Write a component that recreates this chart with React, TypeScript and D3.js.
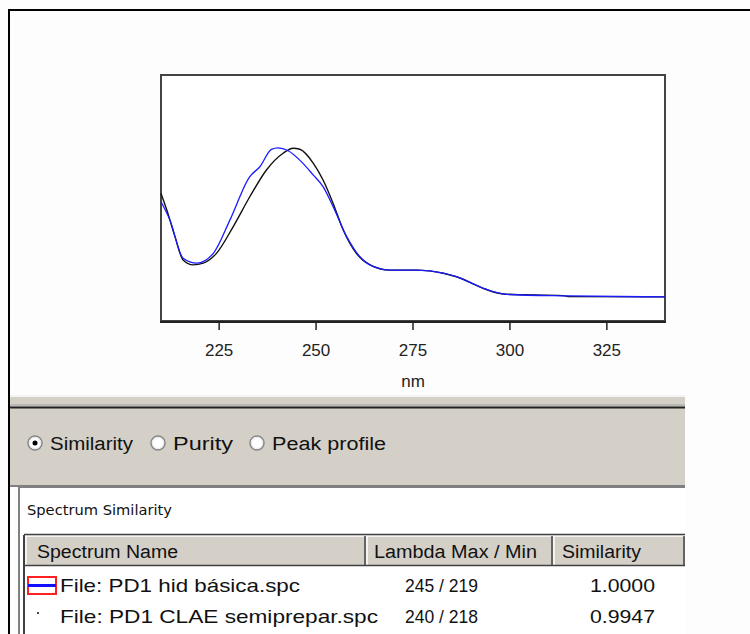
import * as d3 from "d3"

// wavelength grid (nm) and relative absorbance
const blackNm = [210, 211.5, 213.6, 215.7, 218.3, 220.9, 224.3, 228.6, 232.9, 237.2, 241.5, 244.1, 245.8, 249.3, 251.8, 254.4, 257.0, 260.4, 263.9, 269.0, 275.9, 282.8, 286.2, 293.1, 296.5, 299.1, 313.7, 315.4, 340]
const blackAbs = [0.519, 0.451, 0.343, 0.248, 0.228, 0.235, 0.275, 0.383, 0.505, 0.614, 0.682, 0.702, 0.698, 0.641, 0.573, 0.478, 0.37, 0.275, 0.228, 0.207, 0.207, 0.194, 0.18, 0.133, 0.115, 0.109, 0.103, 0.099, 0.098]

const blueNm = [210, 212.3, 215.7, 219.2, 223.5, 227.8, 232.9, 235.5, 238.5, 240.2, 242.8, 245.8, 249.3, 251.8, 254.4, 257.9, 261.3, 264.8, 269, 276, 282.8, 286.2, 293, 296.5, 299, 315, 340]
const blueAbs = [0.485, 0.411, 0.255, 0.235, 0.275, 0.411, 0.587, 0.627, 0.698, 0.704, 0.692, 0.654, 0.593, 0.546, 0.465, 0.343, 0.261, 0.221, 0.207, 0.207, 0.195, 0.18, 0.134, 0.116, 0.108, 0.102, 0.098]

const xTicks = [225, 250, 275, 300, 325]

const radioLabels = ["Similarity", "Purity", "Peak profile"]
const tableHeaders = ["Spectrum Name", "Lambda Max / Min", "Similarity"]
const spectrumNames = ["File: PD1 hid básica.spc", "File: PD1 CLAE semiprepar.spc"]
const lambdaMaxMin = ["245 / 219", "240 / 218"]
const similarity = ["1.0000", "0.9947"]

const W = 750
const H = 634
const font = "Liberation Sans, Arial, sans-serif"
const gray = "#d4d0c8"

const App = () => {
  const x = d3.scaleLinear().domain([210, 340]).range([161, 665])
  const y = d3.scaleLinear().domain([0, 1]).range([321, 75])

  const line = d3
    .line<[number, number]>()
    .x((d) => x(d[0]))
    .y((d) => y(d[1]))
    .curve(d3.curveMonotoneX)

  const blackPts = blackNm.map((n, i) => [n, blackAbs[i]] as [number, number])
  const bluePts = blueNm.map((n, i) => [n, blueAbs[i]] as [number, number])

  const radioX = [35, 158, 257]
  const colX = [25, 366, 553, 685]
  const rowY = [585, 616]

  return (
    <svg
      width={W}
      height={H}
      style={{ position: "absolute", left: 0, top: 0, background: "#fdfdfd" }}
    >
      {/* outer window border */}
      <line x1={8} y1={10} x2={W} y2={10} stroke="#000" strokeWidth={2} />
      <line x1={9} y1={10} x2={9} y2={H} stroke="#000" strokeWidth={2} />

      {/* plot frame */}
      <rect x={161} y={75} width={504} height={246} fill="#fff" stroke="#444" strokeWidth={2} />
      <line x1={160} y1={322} x2={666} y2={322} stroke="#222" strokeWidth={2} />

      <path d={line(blackPts) ?? ""} fill="none" stroke="#111" strokeWidth={1.4} />
      <path d={line(bluePts) ?? ""} fill="none" stroke="#1a1aff" strokeWidth={1.3} />

      {xTicks.map((t) => (
        <g key={t}>
          <line x1={x(t)} y1={322} x2={x(t)} y2={330} stroke="#222" strokeWidth={1.5} />
          <text x={x(t)} y={356} textAnchor="middle" fontFamily={font} fontSize={17} fill="#222">
            {t}
          </text>
        </g>
      ))}
      <text x={x(275)} y={387} textAnchor="middle" fontFamily={font} fontSize={17} fill="#222">
        nm
      </text>

      {/* options panel */}
      <rect x={10} y={395} width={675} height={92} fill={gray} />
      <line x1={10} y1={396} x2={685} y2={396} stroke="#f4f4f4" strokeWidth={2} />
      <line x1={10} y1={405} x2={685} y2={405} stroke="#a0a0a0" strokeWidth={1} />
      <line x1={10} y1={407.5} x2={685} y2={407.5} stroke="#222" strokeWidth={2} />
      <line x1={10} y1={486} x2={685} y2={486} stroke="#808080" strokeWidth={2} />

      {radioLabels.map((r, i) => (
        <g key={r}>
          <circle cx={radioX[i]} cy={443} r={7} fill="#fff" stroke="#888" strokeWidth={1.5} />
          <circle cx={radioX[i]} cy={443} r={5.5} fill="none" stroke="#e8e8e8" strokeWidth={1} />
          {i === 0 && <circle cx={radioX[i]} cy={443} r={2.5} fill="#000" />}
          <text
            x={radioX[i] + 15}
            y={450}
            fontFamily={font}
            fontSize={18}
            fill="#111"
            textLength={[83, 60, 114][i]}
            lengthAdjust="spacingAndGlyphs"
          >
            {r}
          </text>
        </g>
      ))}

      {/* similarity panel */}
      <rect x={19} y={487} width={666} height={H - 487} fill="#fff" />
      <line x1={19} y1={487} x2={19} y2={H} stroke="#808080" strokeWidth={2} />
      <line x1={19} y1={487} x2={685} y2={487} stroke="#808080" strokeWidth={2} />
      <text
        x={27}
        y={515}
        fontFamily="DejaVu Sans, sans-serif"
        fontSize={14}
        fill="#111"
        textLength={145}
        lengthAdjust="spacingAndGlyphs"
      >
        Spectrum Similarity
      </text>

      {/* table */}
      <line x1={24} y1={535} x2={24} y2={H} stroke="#404040" strokeWidth={2} />
      {tableHeaders.map((h, i) => (
        <g key={h}>
          <rect x={colX[i]} y={535} width={colX[i + 1] - colX[i]} height={31} fill={gray} />
          <line x1={colX[i]} y1={536} x2={colX[i + 1]} y2={536} stroke="#fff" strokeWidth={1.5} />
          <line x1={colX[i] + 1} y1={536} x2={colX[i] + 1} y2={566} stroke="#fff" strokeWidth={1.5} />
          <line x1={colX[i]} y1={565.5} x2={colX[i + 1]} y2={565.5} stroke="#404040" strokeWidth={1.5} />
          <line x1={colX[i + 1] - 1} y1={536} x2={colX[i + 1] - 1} y2={566} stroke="#404040" strokeWidth={1.5} />
          <text
            x={colX[i] + [12, 8, 9][i]}
            y={558}
            fontFamily={font}
            fontSize={18}
            fill="#111"
            textLength={[141, 163, 79][i]}
            lengthAdjust="spacingAndGlyphs"
          >
            {h}
          </text>
        </g>
      ))}
      <line x1={24} y1={534.5} x2={685} y2={534.5} stroke="#404040" strokeWidth={1.5} />

      {/* legend swatch and dot */}
      <rect x={28} y={577} width={28} height={17} fill="#fff" stroke="#ff2020" strokeWidth={2} />
      <line x1={28} y1={585.5} x2={56} y2={585.5} stroke="#1010ff" strokeWidth={3} />
      <circle cx={38} cy={613} r={1} fill="#111" />

      {spectrumNames.map((s, i) => (
        <g key={s}>
          <text
            x={60}
            y={rowY[i] + 7}
            fontFamily={font}
            fontSize={19}
            fill="#111"
            textLength={[240, 318][i]}
            lengthAdjust="spacingAndGlyphs"
          >
            {s}
          </text>
          <text
            x={405}
            y={rowY[i] + 7}
            fontFamily={font}
            fontSize={19}
            fill="#111"
            textLength={73}
            lengthAdjust="spacingAndGlyphs"
          >
            {lambdaMaxMin[i]}
          </text>
          <text
            x={590}
            y={rowY[i] + 7}
            fontFamily={font}
            fontSize={19}
            fill="#111"
            textLength={65}
            lengthAdjust="spacingAndGlyphs"
          >
            {similarity[i]}
          </text>
        </g>
      ))}
    </svg>
  )
}

export default App
